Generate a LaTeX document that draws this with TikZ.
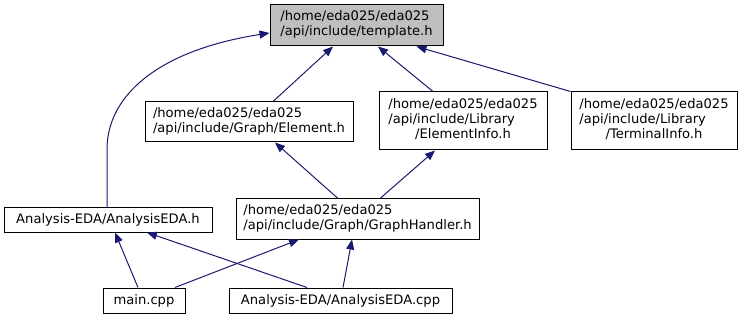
\documentclass[tikz,border=0pt]{standalone}
\usepackage{fontspec}
\setmainfont{DejaVu Sans}
\usetikzlibrary{arrows.meta}
\definecolor{edgeblue}{HTML}{191970}
\definecolor{focusgray}{HTML}{BFBFBF}
\begin{document}
\begin{tikzpicture}[x=1pt, y=-1pt,
  file/.style={draw=black, line width=1pt, fill=white, inner sep=0pt,
    font=\fontsize{13.1}{15}\selectfont},
  focus/.style={file, fill=focusgray},
  dep/.style={draw=edgeblue, line width=1pt,
    -{Triangle[length=10pt,width=8pt]}}]
\useasboundingbox (0,0) rectangle (743,320);

% include graph nodes
\node[focus, minimum width=173pt, minimum height=41pt] (tpl) at (356.5,25.5)
  {\begin{tabular}{@{}l@{}}/home/eda025/eda025\\/api/include/template.h\end{tabular}};
\node[file, minimum width=208pt, minimum height=40pt] (elem) at (249,122)
  {\begin{tabular}{@{}l@{}}/home/eda025/eda025\\/api/include/Graph/Element.h\end{tabular}};
\node[file, minimum width=168pt, minimum height=58pt] (einfo) at (463,121)
  {\begin{tabular}{@{}l@{}}/home/eda025/eda025\\/api/include/Library\\\multicolumn{1}{@{}c@{}}{/ElementInfo.h}\end{tabular}};
\node[file, minimum width=166pt, minimum height=58pt] (tinfo) at (654,121)
  {\begin{tabular}{@{}l@{}}/home/eda025/eda025\\/api/include/Library\\\multicolumn{1}{@{}c@{}}{/TerminalInfo.h}\end{tabular}};
\node[file, minimum width=208pt, minimum height=24pt] (ah) at (108,220)
  {Analysis-EDA/AnalysisEDA.h};
\node[file, minimum width=243pt, minimum height=40pt] (gh) at (357.5,219)
  {\begin{tabular}{@{}l@{}}/home/eda025/eda025\\/api/include/Graph/GraphHandler.h\end{tabular}};
\node[file, minimum width=82pt, minimum height=25pt] (main) at (144,300.5)
  {main.cpp};
\node[file, minimum width=223pt, minimum height=25pt] (acpp) at (340.5,300.5)
  {Analysis-EDA/AnalysisEDA.cpp};

% include dependencies
\draw[dep] ([xshift=-1pt]ah.north) -- ++(0,-58)
  .. controls ++(0,-55) and (160,50) .. ([yshift=-7.5pt]tpl.west);
\draw[dep] ([xshift=24pt]elem.north) -- ([xshift=-23.5pt]tpl.south);
\draw[dep] ([xshift=-30pt]einfo.north) -- ([xshift=21.5pt]tpl.south);
\draw[dep] (tinfo.north west) -- ([xshift=60pt]tpl.south);
\draw[dep] ([xshift=-19.5pt]gh.north) -- ([xshift=26pt]elem.south);
\draw[dep] ([xshift=22.5pt]gh.north) -- ([xshift=-28pt]einfo.south);
\draw[dep] ([xshift=-6pt]main.north) -- ([xshift=7pt]ah.south);
\draw[dep] ([xshift=-33.5pt]acpp.north) -- ([xshift=39pt]ah.south);
\draw[dep] ([xshift=31pt]main.north) -- ([xshift=-58.5pt]gh.south);
\draw[dep] ([xshift=2.5pt]acpp.north) -- ([xshift=-5.5pt]gh.south);
\end{tikzpicture}
\end{document}
